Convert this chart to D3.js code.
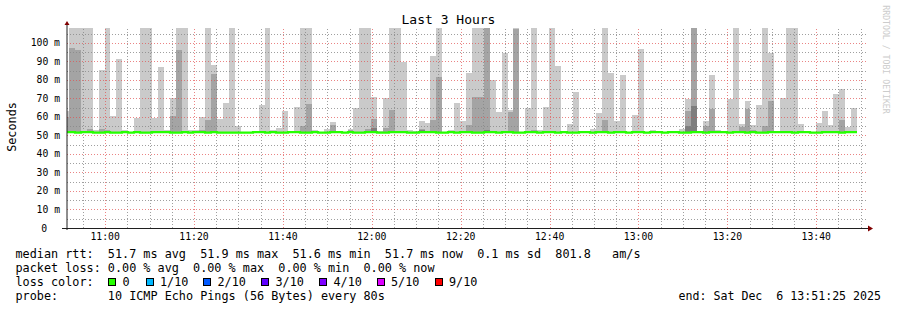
<!DOCTYPE html>
<html>
<head>
<meta charset="utf-8">
<script src="https://cdn.jsdelivr.net/npm/d3@7/dist/d3.min.js"></script>
<style>
  body { margin: 0; background: #fff; }
  svg text { font-family: "DejaVu Sans Mono", monospace; white-space: pre; }
</style>
</head>
<body>
<div id="graph"></div>
<script>

// Time frame: 3 hours, one column every 80 s
var graphStart = new Date(2025, 11, 6, 10, 51, 25);
var graphEnd   = new Date(2025, 11, 6, 13, 51, 25);
var firstStep  = new Date(2025, 11, 6, 10, 50, 32);
var stepSeconds = 80;

// sorted pings per column (ms): highest, 2nd highest, 3rd highest. null = no smoke
var ping10 = [
  63, 120, 120, 120, 120, 53, 85.4, 120, 60.5, 91.4,
  53, null, 59.5, 120, 120, 59.5, 87, 53, 70.3, 120,
  120, 53, 53, 60, 120, 88, 59, 67.6, 120, 55,
  null, null, null, 66.5, 120, 53, 54, 63.2, null, 65.4,
  120, 120, 53, null, 53.5, 57.3, null, null, 53.5, 64.9,
  120, 120, 70.8, 52.5, 70.3, 120, 120, 89.7, 53, 52.5,
  57.8, 56.8, 93, 120, null, 53, 67.6, 57.8, 83.8, 120,
  120, 120, 80, 62.7, 94.6, 63.8, 120, null, 64.9, 120,
  53, 65.4, 120, 87.6, null, 56.2, 73.5, null, null, 53.5,
  62.2, 120, 83.8, 57.8, 82.7, null, 61, 96.8, null, 53,
  null, null, null, null, 53.5, 69.7, 120, null, 57.8, 82.7,
  53, null, 69.7, 120, 56.2, 68.6, 55.7, 66.5, 120, 94.6,
  null, 70.3, 120, 120, 56.2, null, null, 56.8, 63.2, 55.7,
  72.4, 75.1, 54.6, 64.9
];

var ping9 = [
  60, 97.3, 96.2, 52.5, 53.5, null, 53.5, 53, null, null,
  null, null, null, null, null, null, null, null, 60.5, 96.2,
  null, null, null, 53, 58.4, 83.2, null, null, null, null,
  null, null, null, null, null, null, null, null, null, null,
  55, 67, null, null, null, 55.7, null, null, 53, null,
  null, 53.5, 59, null, 54, 63.8, null, null, null, null,
  53.5, null, 58.4, 81.6, null, null, null, null, 55.7, 70.8,
  70.8, 120, null, null, null, 62.7, 107.5, null, null, 53,
  null, null, null, null, null, null, null, null, null, null,
  null, 58.4, null, null, null, null, null, null, null, null,
  null, null, null, null, null, 63.2, 120, null, 55, 64.3,
  null, null, null, null, 54.6, 64.3, 53, null, 55, 68.6,
  null, null, null, null, null, null, null, null, null, null,
  null, 58.4, null, null
];

var ping8 = [
  null, null, null, null, null, null, null, null, null, null,
  null, null, null, null, null, null, null, null, null, null,
  null, null, null, null, null, null, null, null, null, null,
  null, null, null, null, null, null, null, null, null, null,
  null, null, null, null, null, null, null, null, null, null,
  null, null, 54, null, null, null, null, null, null, null,
  53, null, null, null, null, null, null, null, null, null,
  null, 53, null, null, null, null, null, null, null, null,
  null, null, null, null, null, null, null, null, null, null,
  null, null, null, null, null, null, null, null, null, null,
  null, null, null, null, null, 55, 66, null, null, null,
  null, null, null, null, null, null, null, null, null, null,
  null, null, null, null, null, null, null, null, null, null,
  null, null, null, null
];

var lowPing = 51.5;

var median = [
  51.8, 51.8, 51.6, 51.8, 51.8, 51.6, 51.6, 51.8, 51.6, 51.6,
  51.8, 51.6, 51.8, 51.6, 51.6, 51.8, 51.8, 51.8, 51.6, 51.6,
  51.8, 51.6, 51.8, 51.8, 51.6, 51.8, 51.6, 51.6, 51.6, 51.6,
  51.6, 51.6, 51.8, 51.8, 51.6, 51.8, 51.6, 51.6, 51.8, 51.8,
  51.6, 51.6, 51.8, 51.6, 51.6, 51.8, 51.8, 51.6, 51.8, 51.6,
  51.6, 51.8, 51.8, 51.6, 51.6, 51.8, 51.8, 51.8, 51.6, 51.6,
  51.8, 51.8, 51.8, 51.6, 51.6, 51.8, 51.6, 51.8, 51.8, 51.6,
  51.6, 51.8, 51.8, 51.6, 51.8, 51.8, 51.6, 51.6, 51.8, 51.8,
  51.6, 51.8, 51.8, 51.6, 51.8, 51.6, 51.6, 51.8, 51.8, 51.6,
  51.8, 51.8, 51.6, 51.8, 51.8, 51.6, 51.8, 51.8, 51.6, 51.8,
  51.8, 51.6, 51.8, 51.8, 51.6, 51.6, 51.8, 51.8, 51.6, 51.8,
  51.8, 51.8, 51.6, 51.8, 51.8, 51.6, 51.8, 51.6, 51.6, 51.8,
  51.8, 51.8, 51.8, 51.6, 51.8, 51.8, 51.6, 51.6, 51.8, 51.8,
  51.8, 51.6, 51.8, 51.8
];

var yTicks = [0, 10, 20, 30, 40, 50, 60, 70, 80, 90, 100];
var yTop = 108.1;

var lossLabels = ['0', '1/10', '2/10', '3/10', '4/10', '5/10', '9/10'];
var lossColors = ['#26ff00', '#00b8ff', '#0059ff', '#5e00ff', '#7e00ff', '#dd00ff', '#ff0000'];

var legendLines = [
  'median rtt:  51.7 ms avg  51.9 ms max  51.6 ms min  51.7 ms now  0.1 ms sd  801.8   am/s',
  'packet loss: 0.00 % avg  0.00 % max  0.00 % min  0.00 % now',
  'loss color:',
  'probe:       10 ICMP Echo Pings (56 Bytes) every 80s'
];
var endLabel = 'end: Sat Dec  6 13:51:25 2025';
var titleText = 'Last 3 Hours';


var SmokeGraph = function(_id) {

  var that = this;

  that.id = _id;
  that.widthCont = 897;
  that.heightCont = 310;
  that.plot = {left: 67, right: 867, top: 28, bottom: 228};

  that.stepTime = function(i) {
    return new Date(firstStep.getTime() + i * stepSeconds * 1000);
  };

  that.init = function() {

    var p = that.plot;

    that.x = d3.scaleTime().domain([graphStart, graphEnd]).range([p.left, p.right]);
    that.y = d3.scaleLinear().domain([0, yTop]).range([p.bottom, p.top]);

    that.svg = d3.select('#' + that.id).append('svg')
      .attr('width', that.widthCont)
      .attr('height', that.heightCont);

    that.svg.append('rect')
      .attr('width', that.widthCont)
      .attr('height', that.heightCont)
      .attr('fill', '#fff');

    that.svg.append('defs').append('clipPath')
      .attr('id', 'plot-clip')
      .append('rect')
      .attr('x', p.left).attr('y', p.top)
      .attr('width', p.right - p.left).attr('height', p.bottom - p.top);

    that.drawSmoke();
    that.drawGrid();
    that.drawMedian();
    that.drawAxes();
    that.drawTexts();

    return that;
  };

  that.drawSmoke = function() {

    var g = that.svg.append('g').attr('clip-path', 'url(#plot-clip)');

    var bands = [
      {values: ping10, color: '#cacaca'},
      {values: ping9,  color: '#a4a4a4'},
      {values: ping8,  color: '#7e7e7e'}
    ];

    bands.forEach(function(band) {
      var cols = band.values
        .map(function(v, i) { return {i: i, v: v}; })
        .filter(function(d) { return d.v !== null; });

      g.selectAll(null)
        .data(cols)
      .enter().append('rect')
        .attr('x', function(d) { return that.x(that.stepTime(d.i)); })
        .attr('width', function(d) { return that.x(that.stepTime(d.i + 1)) - that.x(that.stepTime(d.i)); })
        .attr('y', function(d) { return that.y(d.v); })
        .attr('height', function(d) { return that.y(lowPing) - that.y(d.v); })
        .attr('fill', band.color)
        .attr('shape-rendering', 'crispEdges');
    });
  };

  that.drawGrid = function() {

    var p = that.plot;
    var g = that.svg.append('g').attr('class', 'grid');

    var minorY = d3.range(5, yTop, 5).filter(function(d) { return d % 10 !== 0; });
    var majorY = yTicks.filter(function(d) { return d > 0; });
    var minorX = d3.timeMinute.every(5).range(graphStart, graphEnd)
      .filter(function(d) { return d.getMinutes() % 20 !== 0; });
    var majorX = that.x.ticks(d3.timeMinute.every(20));

    var minorCol = 'rgba(135,135,135,0.8)';
    var majorCol = 'rgba(225,80,80,0.7)';
    var dash = '1,2';

    g.selectAll('.hmin').data(minorY).enter().append('line')
      .attr('x1', p.left).attr('x2', p.right + 1)
      .attr('y1', function(d) { return Math.round(that.y(d)) + 0.5; })
      .attr('y2', function(d) { return Math.round(that.y(d)) + 0.5; })
      .attr('stroke', minorCol).attr('stroke-dasharray', dash);

    g.selectAll('.vmin').data(minorX).enter().append('line')
      .attr('x1', function(d) { return Math.round(that.x(d)) + 0.5; })
      .attr('x2', function(d) { return Math.round(that.x(d)) + 0.5; })
      .attr('y1', p.bottom).attr('y2', p.top)
      .attr('stroke', minorCol).attr('stroke-dasharray', dash);

    g.selectAll('.hmaj').data(majorY).enter().append('line')
      .attr('x1', p.left).attr('x2', p.right + 1)
      .attr('y1', function(d) { return Math.round(that.y(d)) + 0.5; })
      .attr('y2', function(d) { return Math.round(that.y(d)) + 0.5; })
      .attr('stroke', majorCol).attr('stroke-dasharray', dash);

    g.selectAll('.vmaj').data(majorX).enter().append('line')
      .attr('x1', function(d) { return Math.round(that.x(d)) + 0.5; })
      .attr('x2', function(d) { return Math.round(that.x(d)) + 0.5; })
      .attr('y1', p.bottom).attr('y2', p.top)
      .attr('stroke', majorCol).attr('stroke-dasharray', dash);
  };

  that.drawMedian = function() {

    var pts = median.map(function(v, i) { return {t: that.stepTime(i), v: v}; });
    pts.push({t: that.stepTime(median.length), v: median[median.length - 1]});

    var line = d3.line()
      .x(function(d) { return Math.round(that.x(d.t)); })
      .y(function(d) { return that.y(d.v); })
      .curve(d3.curveStepAfter);

    that.svg.append('g').attr('clip-path', 'url(#plot-clip)')
      .append('path')
      .datum(pts)
      .attr('d', line)
      .attr('fill', 'none')
      .attr('stroke', lossColors[0])
      .attr('stroke-width', 2.2);
  };

  that.drawAxes = function() {

    var p = that.plot;
    var axisCol = '#1f1f1f';
    var arrowCol = '#800000';

    that.svg.append('line')
      .attr('x1', p.left - 5).attr('x2', p.right + 2)
      .attr('y1', p.bottom + 0.5).attr('y2', p.bottom + 0.5)
      .attr('stroke', axisCol);

    that.svg.append('line')
      .attr('x1', p.left).attr('x2', p.left)
      .attr('y1', p.bottom + 2).attr('y2', p.top - 3)
      .attr('stroke', axisCol);

    that.svg.append('path')
      .attr('d', 'M' + (p.right + 1) + ',' + (p.bottom - 2.5) + 'L' + (p.right + 6) + ',' + (p.bottom + 0.5) +
                 'L' + (p.right + 1) + ',' + (p.bottom + 3.5) + 'Z')
      .attr('fill', arrowCol);

    that.svg.append('path')
      .attr('d', 'M' + (p.left - 2.5) + ',' + (p.top - 3) + 'L' + p.left + ',' + (p.top - 7) +
                 'L' + (p.left + 2.5) + ',' + (p.top - 3) + 'Z')
      .attr('fill', arrowCol);

    // y labels
    that.svg.selectAll('.ylab')
      .data(yTicks)
    .enter().append('text')
      .attr('class', 'ylab')
      .attr('x', function(d) { return d === 0 ? p.left - 20 : p.left - 7; })
      .attr('y', function(d) { return that.y(d) + 3.5; })
      .attr('text-anchor', 'end')
      .style('font-size', '9.75px')
      .text(function(d) { return d === 0 ? '0' : d + ' m'; });

    // time labels
    var fmt = d3.timeFormat('%H:%M');
    that.svg.selectAll('.xlab')
      .data(that.x.ticks(d3.timeMinute.every(20)))
    .enter().append('text')
      .attr('class', 'xlab')
      .attr('x', function(d) { return that.x(d); })
      .attr('y', p.bottom + 12)
      .attr('text-anchor', 'middle')
      .style('font-size', '9.75px')
      .text(fmt);
  };

  that.drawTexts = function() {

    that.svg.append('text')
      .attr('x', 448.5).attr('y', 24)
      .attr('text-anchor', 'middle')
      .style('font-size', '13px')
      .text(titleText);

    that.svg.append('text')
      .attr('transform', 'translate(15.5,' + ((that.plot.top + that.plot.bottom) / 2 - 1) + ') rotate(-90)')
      .attr('text-anchor', 'middle')
      .style('font-size', '11.8px')
      .text('Seconds');

    that.svg.append('text')
      .attr('transform', 'translate(883,59.5) rotate(90)')
      .attr('text-anchor', 'middle')
      .style('font-size', '8.2px')
      .attr('fill', '#cccccc')
      .text('RRDTOOL / TOBI OETIKER');

    that.svg.selectAll('.legend')
      .data(legendLines)
    .enter().append('text')
      .attr('class', 'legend')
      .attr('x', 15.5)
      .attr('y', function(d, i) { return 258 + i * 13.9; })
      .style('font-size', '11.8px')
      .text(function(d) { return d; });

    that.svg.append('text')
      .attr('x', 881).attr('y', 299.7)
      .attr('text-anchor', 'end')
      .style('font-size', '11.6px')
      .text(endLabel);

    // loss colour boxes
    var boxX = [108.5, 146, 203.5, 261.5, 319.5, 377, 435];
    var items = that.svg.selectAll('.loss')
      .data(lossLabels)
    .enter().append('g')
      .attr('class', 'loss');

    items.append('rect')
      .attr('x', function(d, i) { return boxX[i]; })
      .attr('y', 278.5)
      .attr('width', 7).attr('height', 7)
      .attr('fill', function(d, i) { return lossColors[i]; })
      .attr('stroke', '#000')
      .attr('shape-rendering', 'crispEdges');

    items.append('text')
      .attr('x', function(d, i) { return boxX[i] + 14; })
      .attr('y', 258 + 2 * 13.9)
      .style('font-size', '11.8px')
      .text(function(d) { return d; });
  };

  return that;
};

new SmokeGraph('graph').init();

</script>
</body>
</html>
